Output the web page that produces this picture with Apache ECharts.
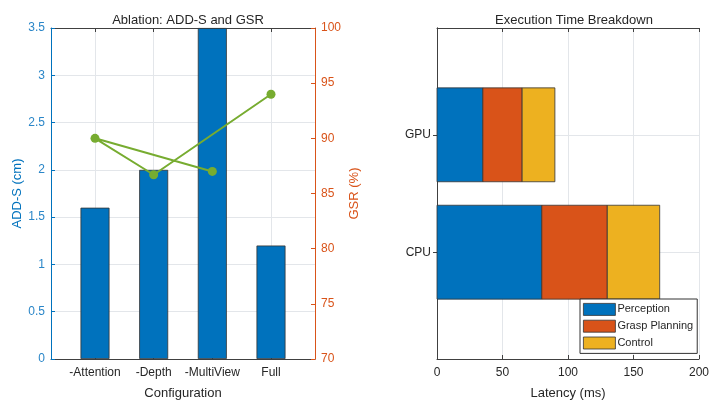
<!DOCTYPE html>
<html>
<head>
<meta charset="utf-8">
<script src="https://cdn.jsdelivr.net/npm/echarts@6/dist/echarts.min.js"></script>
<style>
  html, body { margin: 0; padding: 0; background: #fff; }
  #chart { width: 712px; height: 405px; }
</style>
</head>
<body>
<div id="chart"></div>
<script>
// Ablation study: ADD-S error (bars, left axis) and grasp success rate (line, right axis)
const configurations = ['-Attention', '-Depth', '-MultiView', 'Full'];
const addS = [1.6, 2.0, 3.5, 1.2];
const gsr = [90, 86.7, 87, 94];
// order in which the GSR points are joined by the line (indices into configurations)
const gsrTraceOrder = [2, 0, 1, 3];

// Execution time per platform, split by pipeline stage (ms)
const platforms = ['CPU', 'GPU'];
const stages = ['Perception', 'Grasp Planning', 'Control'];
const perception = [80, 35];
const graspPlanning = [50, 30];
const control = [40, 25];

const addSTicks = [0, 0.5, 1, 1.5, 2, 2.5, 3, 3.5];
const gsrTicks = [70, 75, 80, 85, 90, 95, 100];
const latencyTicks = [0, 50, 100, 150, 200];

const FONT = 'Liberation Sans, Arial, sans-serif';
const BLUE = '#0072BD', ORANGE = '#D95319', YELLOW = '#EDB120', GREEN = '#77AC30';
const AXIS = '#404040', TEXT = '#262626', GRID = '#e3e6ea';

const chart = echarts.init(document.getElementById('chart'), null, { renderer: 'canvas' });

const catPositions = configurations.map((_, i) => i + 1);
const platformPositions = platforms.map((_, i) => i + 1);
const barData = addS.map((v, i) => [i + 1, v]);
const lineData = gsrTraceOrder.map(i => [i + 1, gsr[i]]);

const stageValues = [perception, graspPlanning, control];
const stageColors = [BLUE, ORANGE, YELLOW];
const running = platforms.map(() => 0);
const stageSeries = stages.map((name, k) => {
  const data = platforms.map((p, j) => {
    const start = running[j];
    const end = start + stageValues[k][j];
    running[j] = end;
    return [start, end, j + 1];
  });
  return {
    name,
    type: 'custom',
    xAxisIndex: 2,
    yAxisIndex: 2,
    encode: { x: [0, 1], y: 2 },
    itemStyle: { color: stageColors[k], borderColor: '#333', borderWidth: 0.8 },
    renderItem: (params, api) => {
      const y = api.value(2);
      const p0 = api.coord([api.value(0), y]);
      const p1 = api.coord([api.value(1), y]);
      const h = api.size([0, 0.8])[1];
      return {
        type: 'rect',
        shape: { x: p0[0], y: p0[1] - h / 2, width: p1[0] - p0[0], height: h },
        style: api.style()
      };
    },
    data
  };
});

// short tick marks pointing into the plot area
function ticks(color, custom) {
  const t = { show: true, inside: false, length: -4, lineStyle: { color: color } };
  if (custom) t.customValues = custom;
  return t;
}

const option = {
  animation: false,
  textStyle: { fontFamily: FONT },
  title: [
    { text: 'Ablation: ADD-S and GSR', left: 183, top: 9, textAlign: 'center',
      textStyle: { fontSize: 13, fontWeight: 'normal', color: TEXT, fontFamily: FONT } },
    { text: 'Execution Time Breakdown', left: 569, top: 9, textAlign: 'center',
      textStyle: { fontSize: 13, fontWeight: 'normal', color: TEXT, fontFamily: FONT } }
  ],
  grid: [
    { left: 51, top: 28, width: 264, height: 334 },
    { left: 437, top: 28, width: 265, height: 334 }
  ],
  legend: {
    data: stages,
    orient: 'vertical',
    left: 580, top: 299,
    itemWidth: 32, itemHeight: 12, itemGap: 4,
    padding: [4, 4, 4, 3],
    backgroundColor: '#fff',
    borderColor: '#333', borderWidth: 1, borderRadius: 0,
    icon: 'rect',
    itemStyle: { borderColor: '#333', borderWidth: 0.8 },
    textStyle: { fontSize: 11, color: TEXT, fontFamily: FONT, padding: [0, 0, 0, -3] }
  },
  xAxis: [
    { gridIndex: 0, type: 'value', position: 'bottom', min: 0.25, max: 4.75,
      name: 'Configuration', nameLocation: 'middle', nameGap: 28,
      nameTextStyle: { fontSize: 13, color: TEXT },
      axisLine: { lineStyle: { color: AXIS } },
      axisTick: ticks(AXIS, catPositions),
      axisLabel: { customValues: catPositions, formatter: v => configurations[Math.round(v) - 1],
        fontSize: 12, color: TEXT, margin: 8 },
      splitLine: { show: true, lineStyle: { color: GRID } } },
    { gridIndex: 0, type: 'value', position: 'top', min: 0.25, max: 4.75,
      axisLine: { lineStyle: { color: AXIS } },
      axisTick: ticks(AXIS, catPositions),
      axisLabel: { show: false }, splitLine: { show: false } },
    { gridIndex: 1, type: 'value', position: 'bottom', min: latencyTicks[0],
      max: latencyTicks[latencyTicks.length - 1], interval: 50,
      name: 'Latency (ms)', nameLocation: 'middle', nameGap: 28,
      nameTextStyle: { fontSize: 13, color: TEXT },
      axisLine: { lineStyle: { color: AXIS } }, axisTick: ticks(AXIS),
      axisLabel: { fontSize: 12, color: TEXT, margin: 8 },
      splitLine: { show: true, lineStyle: { color: GRID } } },
    { gridIndex: 1, type: 'value', position: 'top', min: latencyTicks[0],
      max: latencyTicks[latencyTicks.length - 1], interval: 50,
      axisLine: { lineStyle: { color: AXIS } }, axisTick: ticks(AXIS),
      axisLabel: { show: false }, splitLine: { show: false } }
  ],
  yAxis: [
    { gridIndex: 0, type: 'value', position: 'left', min: addSTicks[0],
      max: addSTicks[addSTicks.length - 1], interval: 0.5,
      name: 'ADD-S (cm)', nameLocation: 'middle', nameGap: 21, nameRotate: 90,
      nameTextStyle: { fontSize: 13, color: BLUE },
      axisLine: { show: true, lineStyle: { color: BLUE } },
      axisTick: ticks(BLUE),
      axisLabel: { fontSize: 12, color: '#2a86c8', margin: 6 },
      splitLine: { show: true, lineStyle: { color: GRID } } },
    { gridIndex: 0, type: 'value', position: 'right', min: gsrTicks[0],
      max: gsrTicks[gsrTicks.length - 1], interval: 5,
      name: 'GSR (%)', nameLocation: 'middle', nameGap: 33, nameRotate: 90,
      nameTextStyle: { fontSize: 13, color: ORANGE },
      axisLine: { show: true, lineStyle: { color: ORANGE } },
      axisTick: ticks(ORANGE),
      axisLabel: { fontSize: 12, color: ORANGE, margin: 6 },
      splitLine: { show: false } },
    { gridIndex: 1, type: 'value', position: 'left', min: 0.09, max: 2.91,
      axisLine: { show: true, lineStyle: { color: AXIS } },
      axisTick: ticks(AXIS, platformPositions),
      axisLabel: { customValues: platformPositions, formatter: v => platforms[Math.round(v) - 1],
        fontSize: 12, color: TEXT, margin: 6 },
      splitLine: { show: true, lineStyle: { color: GRID } } },
    { gridIndex: 1, type: 'value', position: 'right', min: 0.09, max: 2.91,
      axisLine: { show: true, lineStyle: { color: AXIS } },
      axisTick: ticks(AXIS, platformPositions),
      axisLabel: { show: false }, splitLine: { show: false } }
  ],
  series: [
    { name: 'ADD-S', type: 'bar', xAxisIndex: 0, yAxisIndex: 0, barWidth: 29,
      itemStyle: { color: BLUE, borderColor: '#333', borderWidth: 0.8 },
      data: barData, z: 2 },
    { name: 'GSR', type: 'line', xAxisIndex: 0, yAxisIndex: 1,
      symbol: 'circle', symbolSize: 9,
      lineStyle: { color: GREEN, width: 2 },
      itemStyle: { color: GREEN },
      data: lineData, z: 5 }
  ].concat(stageSeries)
};

chart.setOption(option);
</script>
</body>
</html>
